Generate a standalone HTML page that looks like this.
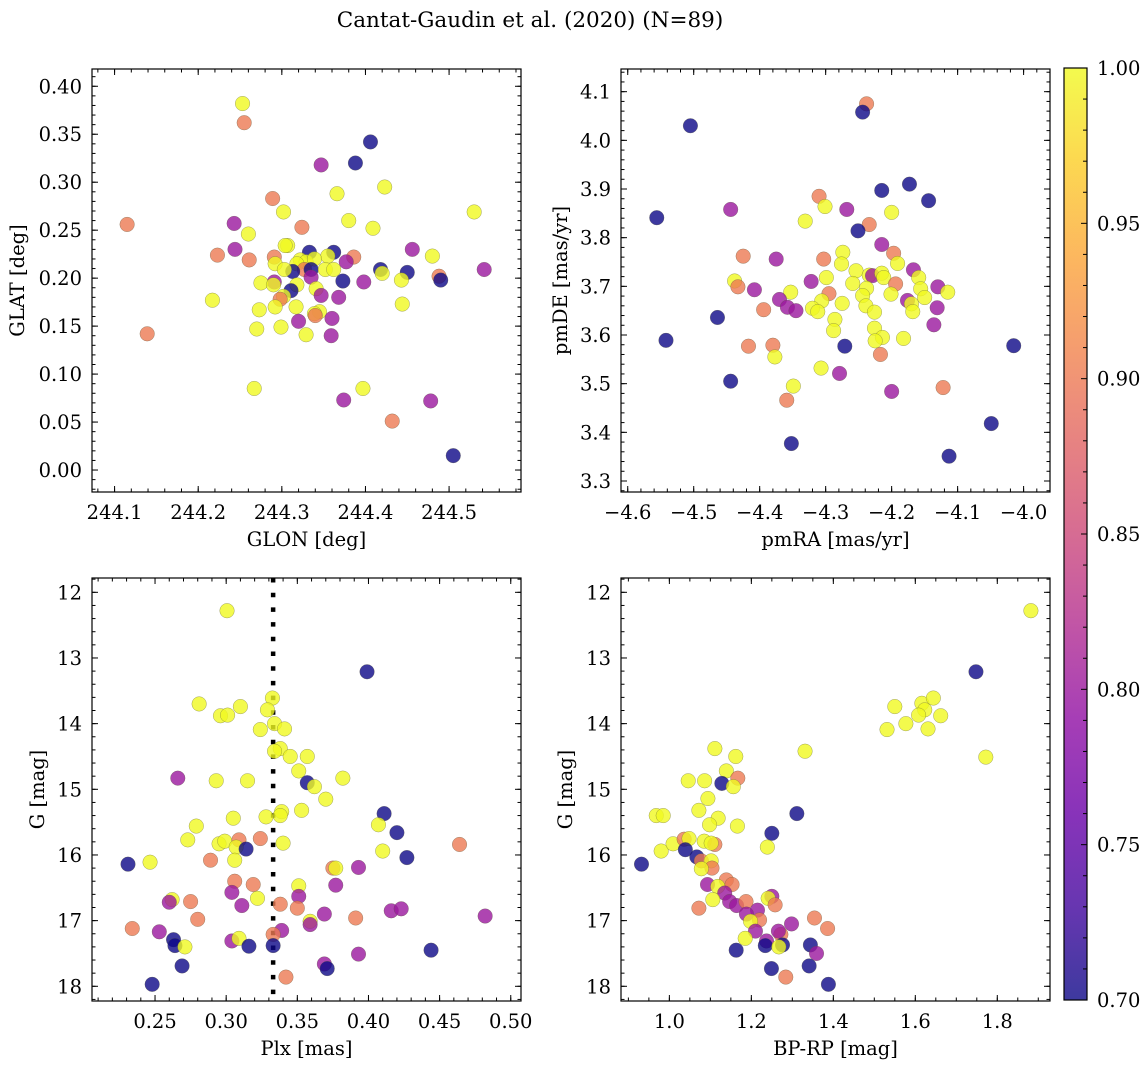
<!DOCTYPE html>
<html><head><meta charset="utf-8"><title>Cantat-Gaudin et al. (2020)</title>
<style>
html,body{margin:0;padding:0;background:#fff;}
svg{display:block;font-family:"DejaVu Serif","Liberation Serif",serif;}
</style></head>
<body>
<svg id="fig" width="1148" height="1068" viewBox="0 0 1148 1068" xmlns="http://www.w3.org/2000/svg">
<text x="530" y="27" font-size="21.5" text-anchor="middle">Cantat-Gaudin et al. (2020) (N=89)</text>
</svg>
<script>
// ---------- Panel 1: GLON / GLAT ----------
const glon = [244.253,244.255,244.406,244.388,244.347,244.423,244.366,244.289,244.302,244.530,244.115,244.243,244.324,244.380,244.409,244.260,244.307,244.304,244.244,244.223,244.261,244.291,244.292,244.333,244.362,244.355,244.386,244.377,244.456,244.480,244.542,244.322,244.329,244.339,244.318,244.327,244.335,244.313,244.303,244.352,244.362,244.418,244.420,244.450,244.443,244.488,244.490,244.373,244.398,244.335,244.291,244.275,244.290,244.318,244.311,244.302,244.298,244.341,244.347,244.368,244.217,244.444,244.273,244.292,244.317,244.345,244.339,244.340,244.320,244.360,244.270,244.299,244.329,244.359,244.139,244.267,244.397,244.374,244.478,244.432,244.505];
const glat = [0.382,0.362,0.342,0.320,0.318,0.295,0.288,0.283,0.269,0.269,0.256,0.257,0.253,0.260,0.252,0.246,0.234,0.234,0.230,0.224,0.219,0.222,0.215,0.227,0.227,0.223,0.222,0.217,0.230,0.223,0.209,0.219,0.217,0.220,0.215,0.209,0.209,0.207,0.209,0.209,0.209,0.209,0.205,0.206,0.198,0.202,0.198,0.197,0.196,0.201,0.196,0.195,0.193,0.193,0.187,0.181,0.178,0.189,0.182,0.180,0.177,0.173,0.167,0.170,0.170,0.165,0.163,0.161,0.155,0.158,0.147,0.149,0.141,0.140,0.142,0.085,0.085,0.073,0.072,0.051,0.015];
const prob1 = [1,0.9,0.7,0.7,0.8,1,1,0.9,1,1,0.9,0.8,0.9,1,1,1,1,1,0.8,0.9,0.9,0.9,1,0.7,0.7,1,0.9,0.8,0.8,1,0.8,1,1,1,1,0.9,0.7,0.7,1,1,1,0.7,1,0.7,1,0.9,0.7,0.7,0.8,0.8,0.8,1,1,1,0.7,1,0.9,1,0.8,0.8,1,1,1,1,1,1,1,0.9,0.8,0.8,1,1,1,0.8,0.9,1,1,0.8,0.8,0.9,0.7];

// ---------- Panel 2: pmRA / pmDE ----------
const pmra = [-4.505,-4.556,-4.238,-4.244,-4.215,-4.173,-4.144,-4.310,-4.301,-4.268,-4.444,-4.331,-4.200,-4.234,-4.251,-4.215,-4.197,-4.191,-4.425,-4.375,-4.303,-4.274,-4.276,-4.254,-4.234,-4.229,-4.215,-4.212,-4.167,-4.159,-4.438,-4.433,-4.408,-4.322,-4.299,-4.259,-4.238,-4.194,-4.156,-4.130,-4.115,-4.150,-4.353,-4.370,-4.358,-4.345,-4.394,-4.295,-4.306,-4.275,-4.244,-4.320,-4.312,-4.239,-4.226,-4.201,-4.176,-4.170,-4.168,-4.131,-4.136,-4.286,-4.288,-4.226,-4.214,-4.225,-4.182,-4.217,-4.271,-4.464,-4.542,-4.417,-4.380,-4.377,-4.307,-4.279,-4.349,-4.359,-4.200,-4.122,-4.444,-4.352,-4.113,-4.049,-4.015];
const pmde = [4.030,3.841,4.075,4.058,3.897,3.910,3.876,3.885,3.864,3.858,3.858,3.834,3.852,3.827,3.814,3.786,3.768,3.747,3.762,3.756,3.756,3.770,3.746,3.732,3.723,3.722,3.727,3.718,3.734,3.718,3.711,3.699,3.693,3.710,3.718,3.706,3.696,3.705,3.695,3.699,3.688,3.677,3.688,3.673,3.657,3.650,3.652,3.685,3.670,3.665,3.681,3.655,3.648,3.660,3.647,3.684,3.671,3.664,3.648,3.656,3.621,3.632,3.609,3.614,3.595,3.588,3.593,3.560,3.577,3.636,3.589,3.577,3.579,3.555,3.532,3.521,3.495,3.466,3.484,3.492,3.505,3.377,3.351,3.418,3.578];
const prob2 = [0.7,0.7,0.9,0.7,0.7,0.7,0.7,0.9,1,0.8,0.8,1,1,0.9,0.7,0.8,0.9,1,0.9,0.8,0.9,1,1,1,1,0.8,1,1,0.8,1,1,0.9,0.8,0.8,1,1,1,0.9,1,0.8,1,1,1,0.8,0.8,0.8,0.9,0.9,1,1,1,1,1,1,1,1,0.8,1,1,0.8,0.8,1,1,1,1,1,1,0.9,0.7,0.7,0.7,0.9,0.9,1,1,0.8,1,0.9,0.8,0.9,0.7,0.7,0.7,0.7,0.7];

// ---------- Panel 3: Plx / G ----------
const plx = [0.3006,0.399,0.3325,0.281,0.310,0.296,0.301,0.329,0.334,0.341,0.324,0.338,0.334,0.345,0.357,0.351,0.266,0.293,0.315,0.357,0.362,0.382,0.370,0.339,0.353,0.338,0.328,0.305,0.411,0.407,0.420,0.279,0.273,0.295,0.299,0.309,0.324,0.340,0.307,0.314,0.464,0.427,0.410,0.231,0.2465,0.289,0.306,0.375,0.377,0.393,0.306,0.319,0.351,0.377,0.304,0.351,0.322,0.311,0.338,0.350,0.262,0.260,0.275,0.280,0.369,0.391,0.416,0.423,0.482,0.359,0.359,0.234,0.253,0.339,0.333,0.263,0.264,0.271,0.304,0.309,0.316,0.333,0.393,0.444,0.269,0.369,0.371,0.342,0.248];
const gmag3 = [12.28,13.21,13.61,13.70,13.74,13.88,13.87,13.79,14.00,14.08,14.09,14.38,14.42,14.50,14.50,14.72,14.83,14.87,14.87,14.90,14.96,14.83,15.15,15.34,15.32,15.40,15.42,15.44,15.37,15.54,15.66,15.56,15.77,15.83,15.79,15.77,15.75,15.82,15.88,15.91,15.84,16.04,15.94,16.14,16.11,16.08,16.08,16.20,16.20,16.19,16.40,16.45,16.47,16.46,16.57,16.63,16.66,16.77,16.75,16.81,16.68,16.72,16.71,16.98,16.90,16.96,16.85,16.82,16.93,17.01,17.06,17.12,17.17,17.15,17.21,17.29,17.38,17.40,17.31,17.27,17.39,17.38,17.51,17.45,17.69,17.66,17.73,17.86,17.97];
const prob3 = [1,0.7,1,1,1,1,1,1,1,1,1,1,1,1,1,1,0.8,1,1,0.7,1,1,1,1,1,1,1,1,0.7,1,0.7,1,1,1,1,0.9,0.9,1,1,0.7,0.9,0.7,1,0.7,1,0.9,1,0.9,1,0.8,0.9,0.9,1,0.8,0.8,0.8,1,0.8,0.9,0.9,1,0.8,0.9,0.9,0.8,0.9,0.8,0.8,0.8,1,0.8,0.9,0.8,0.8,0.9,0.7,0.7,1,0.8,1,0.7,0.7,0.8,0.7,0.7,0.8,0.7,0.9,0.7];
const plxLine = 0.333;

// ---------- Panel 4: BP-RP / G ----------
const bprp = [1.882,1.748,1.550,1.616,1.644,1.623,1.608,1.662,1.577,1.531,1.631,1.331,1.772,1.111,1.162,1.139,1.128,1.167,1.156,1.046,1.086,1.094,1.311,1.072,0.968,0.985,1.119,1.098,1.166,1.250,1.239,0.932,0.980,1.009,1.036,1.048,1.039,1.067,1.085,1.111,1.102,1.078,1.102,1.104,1.078,1.139,1.153,1.093,1.118,1.135,1.106,1.147,1.072,1.164,1.187,1.250,1.241,1.258,1.215,1.188,1.220,1.198,1.210,1.298,1.354,1.386,1.272,1.266,1.237,1.234,1.276,1.267,1.185,1.344,1.359,1.163,1.249,1.341,1.284,1.388];
const gmag4 = [12.28,13.21,13.74,13.69,13.61,13.79,13.87,13.88,14.00,14.09,14.08,14.42,14.51,14.38,14.50,14.72,14.91,14.83,14.96,14.87,14.87,15.14,15.37,15.32,15.40,15.40,15.44,15.54,15.56,15.67,15.88,16.14,15.94,15.83,15.76,15.75,15.92,16.03,15.79,15.84,15.82,16.09,16.09,16.20,16.21,16.38,16.45,16.45,16.48,16.58,16.68,16.71,16.81,16.77,16.71,16.63,16.66,16.76,16.84,16.90,16.99,17.01,17.16,17.05,16.96,17.12,17.21,17.16,17.31,17.38,17.37,17.40,17.27,17.37,17.50,17.45,17.73,17.69,17.86,17.97];
const prob4 = [1,0.7,1,1,1,1,1,1,1,1,1,1,1,1,1,1,0.7,0.9,1,1,1,1,0.7,1,1,1,1,1,1,0.7,1,0.7,1,1,0.9,1,0.7,0.7,1,0.9,1,0.9,1,0.9,1,0.9,0.9,0.8,1,0.8,1,0.8,0.9,0.8,0.9,0.8,1,0.9,0.8,0.8,0.9,1,0.8,0.8,0.9,0.9,0.9,0.8,0.8,0.7,0.7,1,1,0.7,0.8,0.7,0.7,0.7,0.9,0.7];

// ---------- Colorbar ----------
const cbarTicks = [0.70,0.75,0.80,0.85,0.90,0.95,1.00];
const vmin = 0.70, vmax = 1.00;

const FS = 19.5;
const NS = "http://www.w3.org/2000/svg";
const svg = document.getElementById('fig');
function mk(tag, attrs, parent){
  const e = document.createElementNS(NS, tag);
  for (const k in attrs) e.setAttribute(k, attrs[k]);
  (parent||svg).appendChild(e);
  return e;
}
const stops = ["#0d0887","#41049d","#6a00a8","#8f0da4","#b12a90","#cc4778","#e16462","#f2844b","#fca636","#fcce25","#f0f921"];
function hex(h){return [parseInt(h.substr(1,2),16),parseInt(h.substr(3,2),16),parseInt(h.substr(5,2),16)];}
function plasma(t){
  t = Math.max(0, Math.min(1, t));
  const f = t*10, i = Math.min(9, Math.floor(f)), r = f - i;
  const a = hex(stops[i]), b = hex(stops[i+1]);
  return "rgb(" + a.map((v,j)=>Math.round(v+(b[j]-v)*r)).join(",") + ")";
}
function fmt(v, d){ const s = v.toFixed(d); return s.charAt(0)==='-' ? '\u2212'+s.slice(1) : s; }

function panel(cfg){
  const g = mk('g', {});
  
  
  const L=cfg.L,R=cfg.R,T=cfg.T,B=cfg.B;
  const sx = v => L + (v - cfg.xmin)/(cfg.xmax - cfg.xmin)*(R-L);
  const sy = cfg.yinv ? (v => T + (v - cfg.ymin)/(cfg.ymax - cfg.ymin)*(B-T))
                      : (v => B - (v - cfg.ymin)/(cfg.ymax - cfg.ymin)*(B-T));
  const tg = mk('g', {stroke:'#000','stroke-width':1}, g);
  
  
  function xt(step, len, labelDec){
    const lo = Math.ceil(cfg.xmin/step - 1e-6), hi = Math.floor(cfg.xmax/step + 1e-6);
    for (let k=lo;k<=hi;k++){
      const v = k*step, x = sx(v);
      mk('line',{x1:x,y1:B,x2:x,y2:B-len},tg);
      mk('line',{x1:x,y1:T,x2:x,y2:T+len},tg);
      if (labelDec !== undefined){
        const t = mk('text',{x:x,y:B+27,'font-size':FS,'text-anchor':'middle',stroke:'none',fill:'#000'},g);
        
        
        t.textContent = fmt(v, labelDec);
      }
    }
  }
  function yt(step, len, labelDec){
    const lo = Math.ceil(cfg.ymin/step - 1e-6), hi = Math.floor(cfg.ymax/step + 1e-6);
    for (let k=lo;k<=hi;k++){
      const v = k*step, y = sy(v);
      mk('line',{x1:L,y1:y,x2:L+len,y2:y},tg);
      mk('line',{x1:R,y1:y,x2:R-len,y2:y},tg);
      if (labelDec !== undefined){
        const t = mk('text',{x:L-10,y:y+7,'font-size':FS,'text-anchor':'end',stroke:'none',fill:'#000'},g);
        
        
        t.textContent = fmt(v, labelDec);
      }
    }
  }
  xt(cfg.xmajor, 6, cfg.xdec); xt(cfg.xminor, 3.5);
  yt(cfg.ymajor, 6, cfg.ydec); yt(cfg.yminor, 3.5);
  if (cfg.vline !== undefined){
    const ln = mk('line',{x1:sx(cfg.vline),y1:T,x2:sx(cfg.vline),y2:B,stroke:'#000','stroke-width':4.5,'stroke-dasharray':'4.5 10.2'},g);
    
    
  }
  const pg = mk('g', {}, g);
  
  
  for (let i=0;i<cfg.xs.length;i++){
    const c = mk('circle',{cx:sx(cfg.xs[i]),cy:sy(cfg.ys[i]),r:7.3,fill:plasma((cfg.ps[i]-vmin)/(vmax-vmin)),'fill-opacity':0.8,stroke:'rgba(90,90,60,0.55)','stroke-width':0.5},pg);
    
    
  }
  const fr = mk('rect',{x:L,y:T,width:R-L,height:B-T,fill:'none',stroke:'#000','stroke-width':1.2},g);
  
  
  const xl = mk('text',{x:(L+R)/2,y:B+54,'font-size':FS,'text-anchor':'middle'},g);
  
  
  xl.textContent = cfg.xlabel;
  const yl = mk('text',{x:0,y:0,'font-size':FS,'text-anchor':'middle',transform:'translate('+cfg.ylx+','+((T+B)/2)+') rotate(-90)'},g);
  
  
  yl.textContent = cfg.ylabel;
}

panel({name:'glon-glat-panel',L:92,R:521,T:69,B:492,xmin:244.073,xmax:244.586,ymin:-0.0229,ymax:0.418,
  xmajor:0.1,xminor:0.02,ymajor:0.05,yminor:0.01,xdec:1,ydec:2,xs:glon,ys:glat,ps:prob1,
  xlabel:'GLON [deg]',ylabel:'GLAT [deg]',ylx:24});
panel({name:'proper-motion-panel',L:621,R:1050,T:69,B:492,xmin:-4.6102,xmax:-3.960,ymin:3.2774,ymax:4.1466,
  xmajor:0.1,xminor:0.02,ymajor:0.1,yminor:0.02,xdec:1,ydec:1,xs:pmra,ys:pmde,ps:prob2,
  xlabel:'pmRA [mas/yr]',ylabel:'pmDE [mas/yr]',ylx:567});
panel({name:'parallax-mag-panel',L:92,R:521,T:578,B:1001,xmin:0.2057,xmax:0.5072,ymin:11.782,ymax:18.224,yinv:true,
  xmajor:0.05,xminor:0.01,ymajor:1,yminor:0.2,xdec:2,ydec:0,xs:plx,ys:gmag3,ps:prob3,vline:plxLine,
  xlabel:'Plx [mas]',ylabel:'G [mag]',ylx:44});
panel({name:'cmd-panel',L:621,R:1050,T:578,B:1001,xmin:0.882,xmax:1.9286,ymin:11.782,ymax:18.224,yinv:true,
  xmajor:0.2,xminor:0.05,ymajor:1,yminor:0.2,xdec:1,ydec:0,xs:bprp,ys:gmag4,ps:prob4,
  xlabel:'BP-RP [mag]',ylabel:'G [mag]',ylx:572});

(function(){
  const L=1064,R=1087,T=68,B=1000;
  const cg = mk('g',{});
  
  
  const defs = mk('defs',{},cg);
  const lg = mk('linearGradient',{id:'cb',x1:0,y1:1,x2:0,y2:0},defs);
  for (let i=0;i<=20;i++){
    mk('stop',{offset:(i/20),'stop-color':plasma(i/20),'stop-opacity':0.8},lg);
  }
  mk('rect',{x:L,y:T,width:R-L,height:B-T,fill:'url(#cb)'},cg);
  const sy = v => B - (v-vmin)/(vmax-vmin)*(B-T);
  for (let k=70;k<=100;k++){
    const y = sy(k/100), len = (k%5===0)?6:4;
    mk('line',{x1:R,y1:y,x2:R-len,y2:y,stroke:'#000','stroke-width':1},cg);
  }
  for (let i=0;i<cbarTicks.length;i++){
    const t = mk('text',{x:R+10,y:sy(cbarTicks[i])+7,'font-size':FS},cg);
    
    
    t.textContent = cbarTicks[i].toFixed(2);
  }
  mk('rect',{x:L,y:T,width:R-L,height:B-T,fill:'none',stroke:'#000','stroke-width':1.2},cg);
})();
</script>
</body></html>
